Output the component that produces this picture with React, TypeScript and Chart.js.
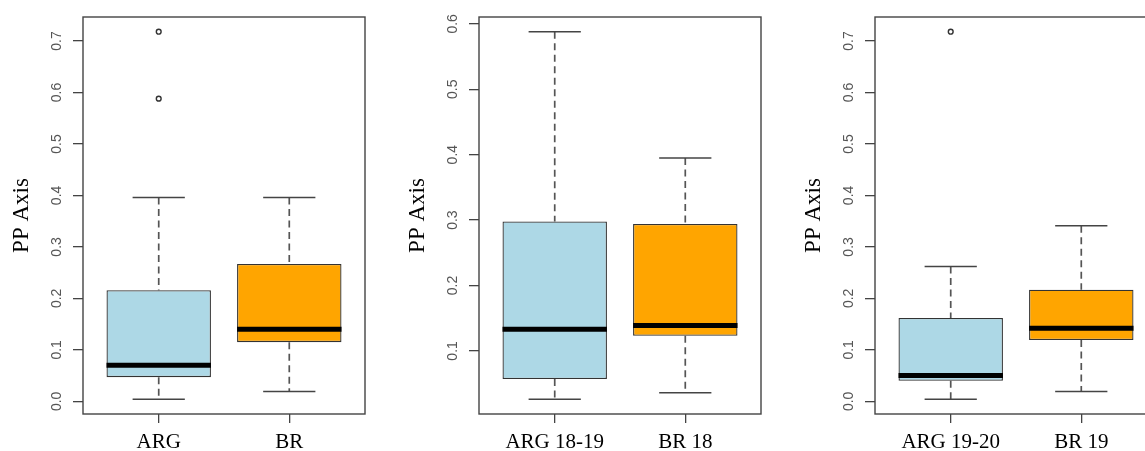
import React, { useEffect, useRef } from "react";
import { Chart, registerables } from "chart.js";

Chart.register(...registerables);

// ---------- data ----------
const panel1Categories = ["ARG", "BR"];
const panel1Low = [0.004, 0.019];
const panel1Q1 = [0.047, 0.115];
const panel1Median = [0.07, 0.14];
const panel1Q3 = [0.216, 0.267];
const panel1High = [0.396, 0.396];
const panel1Outliers = [[0.588, 0.718], []];
const panel1Ticks = [0.0, 0.1, 0.2, 0.3, 0.4, 0.5, 0.6, 0.7];

const panel2Categories = ["ARG 18-19", "BR 18"];
const panel2Low = [0.026, 0.036];
const panel2Q1 = [0.057, 0.123];
const panel2Median = [0.133, 0.139];
const panel2Q3 = [0.298, 0.294];
const panel2High = [0.588, 0.395];
const panel2Outliers = [[], []];
const panel2Ticks = [0.1, 0.2, 0.3, 0.4, 0.5, 0.6];

const panel3Categories = ["ARG 19-20", "BR 19"];
const panel3Low = [0.004, 0.019];
const panel3Q1 = [0.04, 0.119];
const panel3Median = [0.05, 0.142];
const panel3Q3 = [0.162, 0.217];
const panel3High = [0.262, 0.341];
const panel3Outliers = [[0.718], []];
const panel3Ticks = [0.0, 0.1, 0.2, 0.3, 0.4, 0.5, 0.6, 0.7];

const boxColors = ["#ADD8E6", "#FFA500"];
const yTitle = "PP Axis";

type Panel = {
  categories: string[];
  low: number[];
  q1: number[];
  median: number[];
  q3: number[];
  high: number[];
  outliers: number[][];
  ticks: number[];
};

const panels: Panel[] = [
  { categories: panel1Categories, low: panel1Low, q1: panel1Q1, median: panel1Median, q3: panel1Q3, high: panel1High, outliers: panel1Outliers, ticks: panel1Ticks },
  { categories: panel2Categories, low: panel2Low, q1: panel2Q1, median: panel2Median, q3: panel2Q3, high: panel2High, outliers: panel2Outliers, ticks: panel2Ticks },
  { categories: panel3Categories, low: panel3Low, q1: panel3Q1, median: panel3Median, q3: panel3Q3, high: panel3High, outliers: panel3Outliers, ticks: panel3Ticks },
];

// ---------- layout ----------
const AXIS_W = 75;
const PLOT_W = 282;
const RIGHT_PAD = 10;
const CANVAS_W = AXIS_W + PLOT_W + RIGHT_PAD;
const CANVAS_H = 451;
const canvasLefts = [8, 404, 800];

function rangeOf(p: Panel): [number, number] {
  const vals = [...p.low, ...p.high, ...p.outliers.flat()];
  const lo = Math.min(...vals);
  const hi = Math.max(...vals);
  const ext = (hi - lo) * 0.04;
  return [lo - ext, hi + ext];
}

function makeBoxPlugin(p: Panel) {
  const line = (ctx: CanvasRenderingContext2D, x1: number, y1: number, x2: number, y2: number) => {
    ctx.beginPath();
    ctx.moveTo(x1, y1);
    ctx.lineTo(x2, y2);
    ctx.stroke();
  };
  return {
    id: "boxExtras",
    beforeDatasetsDraw(chart: any) {
      const ctx = chart.ctx as CanvasRenderingContext2D;
      const xs = chart.scales.x;
      const ys = chart.scales.y;
      const meta = chart.getDatasetMeta(0);
      ctx.save();
      p.categories.forEach((_, i) => {
        const bar = meta.data[i] as any;
        const half = bar.width / 2;
        const cx = xs.getPixelForValue(i + 1);
        ctx.strokeStyle = "#555";
        ctx.lineWidth = 1.7;
        ctx.setLineDash([7, 4.5]);
        line(ctx, cx, ys.getPixelForValue(p.high[i]), cx, ys.getPixelForValue(p.q3[i]));
        line(ctx, cx, ys.getPixelForValue(p.q1[i]), cx, ys.getPixelForValue(p.low[i]));
        ctx.setLineDash([]);
        ctx.strokeStyle = "#444";
        ctx.lineWidth = 1.4;
        const yh = ys.getPixelForValue(p.high[i]);
        const yl = ys.getPixelForValue(p.low[i]);
        line(ctx, cx - half / 2, yh, cx + half / 2, yh);
        line(ctx, cx - half / 2, yl, cx + half / 2, yl);
      });
      ctx.restore();
    },
    afterDatasetsDraw(chart: any) {
      const ctx = chart.ctx as CanvasRenderingContext2D;
      const xs = chart.scales.x;
      const ys = chart.scales.y;
      const meta = chart.getDatasetMeta(0);
      ctx.save();
      p.categories.forEach((_, i) => {
        const bar = meta.data[i] as any;
        const half = bar.width / 2;
        const cx = xs.getPixelForValue(i + 1);
        ctx.strokeStyle = "#000";
        ctx.lineWidth = 5;
        const ym = ys.getPixelForValue(p.median[i]);
        line(ctx, cx - half, ym, cx + half, ym);
        ctx.strokeStyle = "#333";
        ctx.lineWidth = 1.4;
        p.outliers[i].forEach((v) => {
          ctx.beginPath();
          ctx.arc(cx, ys.getPixelForValue(v), 2.4, 0, Math.PI * 2);
          ctx.stroke();
        });
      });
      ctx.restore();
    },
    afterDraw(chart: any) {
      const ctx = chart.ctx as CanvasRenderingContext2D;
      const a = chart.chartArea;
      ctx.save();
      ctx.strokeStyle = "#444";
      ctx.lineWidth = 1.4;
      ctx.strokeRect(a.left, a.top, a.right - a.left, a.bottom - a.top);
      ctx.restore();
    },
  };
}

function buildChart(canvas: HTMLCanvasElement, p: Panel) {
  const [ymin, ymax] = rangeOf(p);
  const n = p.categories.length;
  const xPad = n * 0.04;
  return new Chart(canvas, {
    type: "bar",
    data: {
      datasets: [
        {
          data: p.categories.map((_, i) => ({ x: i + 1, y: [p.q1[i], p.q3[i]] })) as any,
          backgroundColor: boxColors,
          borderColor: "#333",
          borderWidth: 1.3,
          borderSkipped: false,
          categoryPercentage: 1,
          barPercentage: 0.8,
        },
      ],
    },
    options: {
      responsive: false,
      animation: false,
      events: [],
      layout: { padding: { top: 17, right: RIGHT_PAD, left: 0, bottom: 0 } },
      plugins: { legend: { display: false }, tooltip: { enabled: false } },
      scales: {
        x: {
          type: "linear",
          min: 0.5 - xPad,
          max: n + 0.5 + xPad,
          offset: false,
          afterBuildTicks: (s: any) => {
            s.ticks = p.categories.map((_, i) => ({ value: i + 1 }));
          },
          afterFit: (s: any) => {
            s.height = 37;
          },
          ticks: {
            autoSkip: false,
            minRotation: 0,
            maxRotation: 0,
            padding: 7,
            color: "#000",
            font: { family: "'Liberation Serif', 'Times New Roman', serif", size: 21 },
            callback: (v: any) => p.categories[Math.round(Number(v)) - 1] ?? "",
          },
          grid: { offset: false, drawOnChartArea: false, drawTicks: true, tickLength: 9, color: "#444", tickColor: "#444", lineWidth: 1.3 },
          border: { display: false },
        } as any,
        y: {
          type: "linear",
          min: ymin,
          max: ymax,
          afterBuildTicks: (s: any) => {
            s.ticks = p.ticks.map((v) => ({ value: v }));
          },
          afterFit: (s: any) => {
            s.width = AXIS_W;
          },
          ticks: {
            autoSkip: false,
            minRotation: 90,
            maxRotation: 90,
            crossAlign: "center",
            padding: 6,
            color: "#555",
            font: { family: "'Liberation Sans', Arial, sans-serif", size: 14 },
            callback: (v: any) => Number(v).toFixed(1),
          },
          grid: { drawOnChartArea: false, drawTicks: true, tickLength: 10, color: "#444", tickColor: "#444", lineWidth: 1.3 },
          border: { display: false },
          title: {
            display: true,
            text: yTitle,
            color: "#000",
            font: { family: "'Liberation Serif', 'Times New Roman', serif", size: 23, lineHeight: 1 },
            padding: { top: 2, bottom: 0 },
          },
        } as any,
      },
    },
    plugins: [makeBoxPlugin(p)],
  });
}

export default function App() {
  const refs = [useRef<HTMLCanvasElement>(null), useRef<HTMLCanvasElement>(null), useRef<HTMLCanvasElement>(null)];
  useEffect(() => {
    const charts = panels.map((p, i) => buildChart(refs[i].current as HTMLCanvasElement, p));
    return () => charts.forEach((c) => c.destroy());
  }, []);
  return (
    <div style={{ position: "fixed", left: 0, top: 0, width: 1145, height: 451, overflow: "hidden", background: "#fff" }}>
      {panels.map((_, i) => (
        <canvas
          key={i}
          ref={refs[i]}
          width={CANVAS_W}
          height={CANVAS_H}
          style={{ position: "absolute", left: canvasLefts[i], top: 0, width: CANVAS_W, height: CANVAS_H }}
        />
      ))}
    </div>
  );
}
